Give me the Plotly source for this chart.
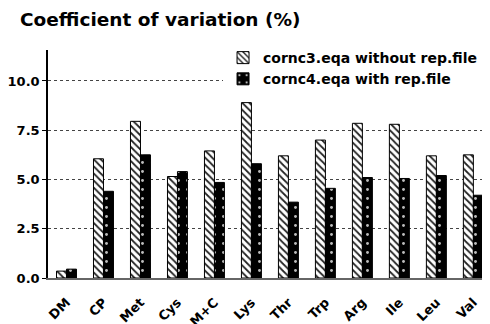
import plotly.graph_objects as go

categories = ["DM", "CP", "Met", "Cys", "M+C", "Lys", "Thr", "Trp", "Arg", "Ile", "Leu", "Val"]
without_rep = [0.35, 6.05, 7.95, 5.15, 6.45, 8.9, 6.2, 7.0, 7.85, 7.8, 6.2, 6.25]
with_rep = [0.45, 4.4, 6.25, 5.4, 4.85, 5.8, 3.85, 4.55, 5.1, 5.05, 5.2, 4.2]
series_names = ["cornc3.eqa without rep.file", "cornc4.eqa with rep.file"]
y_ticks = [0, 2.5, 5, 7.5, 10]
y_tick_labels = ["0.0", "2.5", "5.0", "7.5", "10.0"]

FONT = "DejaVu Sans, Verdana, sans-serif"

fig = go.Figure()
fig.add_trace(go.Bar(
    x=categories, y=without_rep, name=f"<b>{series_names[0]}</b>",
    marker=dict(color="white", line=dict(color="black", width=1),
                pattern=dict(shape="\\", fgcolor="#222", bgcolor="white",
                             size=5, solidity=0.35, fillmode="replace")),
))
fig.add_trace(go.Bar(
    x=categories, y=with_rep, name=f"<b>{series_names[1]}</b>",
    marker=dict(color="black", line=dict(color="black", width=1),
                pattern=dict(shape=".", fgcolor="#bbb", bgcolor="black",
                             size=9, solidity=0.08, fillmode="replace")),
))

fig.update_layout(
    width=482, height=316,
    margin=dict(l=40, r=0, t=42, b=46, autoexpand=False),
    paper_bgcolor="white", plot_bgcolor="white",
    barmode="group", bargap=0.46, bargroupgap=0,
    font=dict(family=FONT, color="black"),
    title=dict(text="<b>Coefficient of variation (%)</b>", x=12/482, xanchor="left",
               xref="container", yref="container", y=1-12/316, yanchor="middle",
               font=dict(size=18.5, family=FONT, color="black")),
    showlegend=True,
    legend=dict(x=0.396, y=1.035, xanchor="left", yanchor="top", bgcolor="white",
                font=dict(size=14, family=FONT, color="black"),
                itemwidth=30, tracegroupgap=0, traceorder="normal"),
    xaxis=dict(range=[-0.5, 11.45], tickangle=-45, showline=True, linecolor="#666",
               linewidth=1.5, ticks="", tickfont=dict(size=13, family=FONT, color="black"),
               ticklabelstandoff=10,
               showgrid=False, automargin=False,
               tickvals=categories, ticktext=[f"<b>{c}</b>" for c in categories]),
    yaxis=dict(range=[0, 11.57], tickvals=y_ticks, ticktext=[f"<b>{t}</b>" for t in y_tick_labels],
               showline=True, linecolor="black", linewidth=1.5, ticks="outside", ticklen=4,
               tickcolor="black", tickfont=dict(size=13, family=FONT, color="black"),
               showgrid=True, gridcolor="#444", griddash="dot", gridwidth=1,
               zeroline=False, automargin=False),
)

fig.write_html("out.html")
